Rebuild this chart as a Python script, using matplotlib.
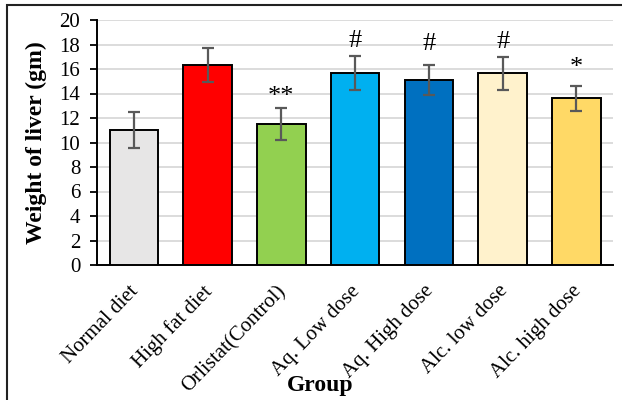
import matplotlib.pyplot as plt
from matplotlib.patches import Rectangle
from matplotlib.transforms import ScaledTranslation

# Liver weight by group
groups = ['Normal diet', 'High fat diet', 'Orlistat(Control)', 'Aq. Low dose',
          'Aq. High dose', 'Alc. low dose', 'Alc. high dose']
weights = [11.0, 16.3, 11.5, 15.7, 15.1, 15.65, 13.6]
errors = [1.45, 1.4, 1.3, 1.38, 1.25, 1.35, 1.05]
marks = ['', '', '**', '#', '#', '#', '*']
mark_y = [None, None, 13.2, 17.8, 17.55, 17.7, 15.6]
colors = ['#e7e6e6', '#ff0000', '#92d050', '#00b0f0', '#0070c0', '#fff2cc', '#ffd966']

plt.rcParams['font.family'] = ['Liberation Serif', 'DejaVu Serif']

fig = plt.figure(figsize=(6.22, 4.0), dpi=100)
ax = fig.add_axes([0.156, 0.3375, 0.83, 0.6125])

x = range(len(groups))
ax.bar(x, weights, width=0.66, color=colors, edgecolor='black', linewidth=1.4, zorder=3)
ax.errorbar(x, weights, yerr=errors, fmt='none', ecolor='#595959',
            elinewidth=1.6, capsize=4.3, capthick=1.6, zorder=4)

for i in x:
    if marks[i]:
        ax.text(i, mark_y[i], marks[i], ha='center', va='baseline', fontsize=19)

ax.set_ylim(0, 20)
ax.set_xlim(-0.5, len(groups) - 0.5)
ax.set_yticks(range(0, 21, 2))
ax.yaxis.grid(True, color='#d9d9d9', linewidth=1.3, zorder=0)
ax.set_axisbelow(True)

for s in ['top', 'right']:
    ax.spines[s].set_visible(False)
ax.spines['left'].set_linewidth(1.4)
ax.spines['bottom'].set_linewidth(1.4)

ax.tick_params(axis='y', labelsize=15, length=5, width=1.3, pad=7)
ax.tick_params(axis='x', length=0, pad=12)
ax.set_xticks(list(x))
ax.set_xticklabels(groups, rotation=46, ha='right', va='top', rotation_mode='anchor', fontsize=15)
for lab in ax.get_xticklabels():
    lab.set_transform(lab.get_transform() + ScaledTranslation(-5 / 100, 0, fig.dpi_scale_trans))

ax.set_ylabel('Weight of liver (gm)', fontsize=17, fontweight='bold', labelpad=9)
fig.text(0.514, 0.0375, 'Group', ha='center', va='center', fontsize=17, fontweight='bold')

# outer frame
fig.patches.append(Rectangle((7 / 622, -0.1), 1.2, 1.1 - 5 / 400, transform=fig.transFigure,
                             fill=False, edgecolor='#222222', linewidth=1.5))

fig.savefig('out.png', dpi=100)
